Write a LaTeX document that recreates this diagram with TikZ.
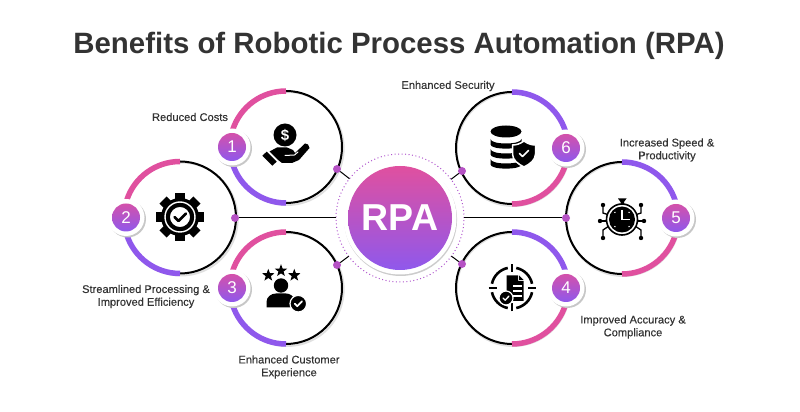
\documentclass[tikz,border=0pt]{standalone}
\usepackage{fontspec}
\setmainfont{Liberation Sans}
\usetikzlibrary{shadows,shapes.geometric}
\definecolor{rpapink}{HTML}{E0509F}
\definecolor{rpapurple}{HTML}{8F58EC}
\definecolor{dotcolor}{HTML}{B552C4}
\definecolor{textgray}{HTML}{333333}
\newfontfamily\labelfont[FakeBold=.25]{Liberation Sans}
\tikzset{
 ringnode/.style={circle,draw=black,line width=2,minimum size=112,inner sep=0,outer sep=0},
 ringshade/.style={draw=black!12,line width=2},
 arcline/.style={line width=5.5},
 badgeback/.style={circle,fill=white,minimum size=37,inner sep=0,outer sep=0,drop shadow={shadow xshift=1.5pt,shadow yshift=-1.5pt,fill=black!22,opacity=1}},
 badgenode/.style={circle,top color=rpapink!85!rpapurple,bottom color=rpapurple,minimum size=28,inner sep=0,outer sep=0,text=white,font=\fontsize{17}{17}\selectfont},
 dotnode/.style={circle,fill=dotcolor,minimum size=8,inner sep=0,outer sep=0},
 linkline/.style={draw=black,line width=1},
 labelnode/.style={align=center,text=textgray,font=\labelfont\fontsize{11.1}{12.8}\selectfont},
 iconstar/.style={star,star points=5,star point ratio=2.4,fill=black,minimum size=13,inner sep=0,outer sep=0},
 whitecheck/.style={draw=white,line width=1.5,line cap=round,line join=round},
}
\begin{document}
\begin{tikzpicture}[x=1pt,y=1pt]
\useasboundingbox (0,0) rectangle (800,412);
\node[text=textgray,font=\bfseries\fontsize{29.4}{30}\selectfont] (title) at (399,366) {Benefits of Robotic Process Automation (RPA)};
% centre
\node[circle,draw=rpapurple!60!rpapink,line width=1,dash pattern=on 1pt off 2.5pt,minimum size=128,inner sep=0,outer sep=0] (halo) at (400,194) {};
\node[circle,fill=white,minimum size=113,inner sep=0,drop shadow={shadow xshift=.6pt,shadow yshift=-1.5pt,fill=black!20,opacity=1}] (rpaback) at (400,194) {};
\node[circle,top color=rpapink,bottom color=rpapurple,minimum size=104,inner sep=0,text=white,font=\bfseries\fontsize{37.5}{38}\selectfont] (rpa) at (400,194) {RPA};
% rings
\foreach \n/\cx/\cy/\topc/\botc/\s in {1/286/265/rpapink/rpapurple/1,2/180/194.5/rpapink/rpapurple/1,3/286/124/rpapink/rpapurple/1,
 4/512/124/rpapurple/rpapink/-1,5/622/194/rpapurple/rpapink/-1,6/512/264/rpapurple/rpapink/-1} {
 \draw[ringshade] (\cx+1.2,\cy-1.5) circle (56.5);
 \node[ringnode] (ring\n) at (\cx,\cy) {};
 \draw[arcline,\topc] (\cx,\cy+56) arc (90:{90+72*\s}:56);
 \draw[arcline,\botc] (\cx,\cy-56) arc (270:{270-72*\s}:56);
 \node[badgeback] (back\n) at ({\cx-54*\s},\cy) {};
 \node[badgenode] (badge\n) at ({\cx-54*\s},\cy) {\n};
}
% connectors
\node[dotnode] (dot1) at (337,243) {};
\node[dotnode] (dot2) at (235,194) {};
\node[dotnode] (dot3) at (337,147) {};
\node[dotnode] (dot4) at (462,148) {};
\node[dotnode] (dot5) at (566,194) {};
\node[dotnode] (dot6) at (462,241) {};
\foreach \n in {1,...,6} {
 \draw[linkline] (dot\n) -- (halo);
}
% labels
\node[labelnode] (label1) at (190,295) {Reduced Costs};
\node[labelnode] (label2) at (146,115.5) {Streamlined Processing \&\\Improved Efficiency};
\node[labelnode] (label3) at (289,45) {Enhanced Customer\\Experience};
\node[labelnode] (label4) at (633,85) {Improved Accuracy \&\\Compliance};
\node[labelnode] (label5) at (667,262) {Increased Speed \&\\Productivity};
\node[labelnode] (label6) at (448,326) {Enhanced Security};
% icon 1
\begin{scope}[shift={(255,297)},y=-1pt]
 \fill (30,20) circle (11.5);
 \node[text=white,font=\bfseries\fontsize{15}{15}\selectfont] (dollar) at (30,20) {\$};
 \fill (7.3,40.7) -- (11.7,36.7) -- (21.7,46.7) -- (17.3,50.7) -- cycle;
 \fill (14.5,36.5) -- (22,32.5) -- (32,32.5) -- (38,35) -- (40,38) -- (50,28.5) -- (53,29.5) -- (54.5,33) -- (44,45) -- (37,48) -- (27,48) -- (22.5,44.5) -- cycle;
 \draw[white,line width=1,line cap=round] (30,40.5) -- (39.5,40) -- (43,37);
\end{scope}
% icon 2
\begin{scope}[shift={(150,224)},y=-1pt]
 \fill (30,29) circle (19);
 \foreach \a in {0,45,...,315} {
  \fill[rotate around={\a:(30,29)}] (25,5) rectangle (35,14);
 }
 \draw[white,line width=1.4] (30,29) circle (15);
 \draw[black,line width=1.8,fill=white] (30,29) circle (11);
 \draw[black,line width=2.6,line cap=round,line join=round] (24.5,29) -- (28.5,33) -- (36,25.5);
\end{scope}
% icon 3
\begin{scope}[shift={(255,154)},y=-1pt]
 \node[iconstar] (star1) at (13.3,17.3) {};
 \node[iconstar] (star2) at (26,12.7) {};
 \node[iconstar] (star3) at (39.3,17.3) {};
 \fill (26,27.5) circle (7.2);
 \fill (11.5,49.5) -- (11.5,44) .. controls (11.5,39) and (16,35.5) .. (21,35.5) -- (31,35.5) .. controls (35,35.5) and (38,38) .. (39,41) -- (39,49.5) -- cycle;
 \draw[white,line width=1.2,fill=black] (43.3,45.7) circle (8.3);
 \draw[whitecheck,line width=1.7] (39.8,45.7) -- (42.3,48.2) -- (47,43.3);
\end{scope}
% icon 4
\begin{scope}[shift={(482,154)},y=-1pt]
 \foreach \a in {0,90,180,270} {
  \draw[line width=2.6] (30,30) ++(\a+12:20.5) arc (\a+12:\a+78:20.5);
  \draw[line width=2.6,rotate around={\a:(30,30)}] (30,6.5) -- (30,14.5);
 }
 \fill (24.5,17.5) -- (36,17.5) -- (36,23) -- (41.5,23) -- (41.5,43) -- (24.5,43) -- cycle;
 \fill (37,17.5) -- (41.5,22) -- (37,22) -- cycle;
 \foreach \y in {28,33,38} {
  \draw[white,line width=1.1] (31,\y) -- (39.5,\y);
 }
 \draw[white,line width=1.2,fill=black] (24,40) circle (7);
 \draw[whitecheck,line width=1.3] (21,40) -- (23.2,42.2) -- (27,38);
\end{scope}
% icon 5
\begin{scope}[shift={(592,224)},y=-1pt]
 \foreach \sx in {1,-1} {
  \draw[line width=1.3] (30-19*\sx,17) -- (30-19*\sx,25) -- (30-13*\sx,27);
  \draw[line width=1.3] (30-19*\sx,50) -- (30-19*\sx,42) -- (30-13*\sx,38);
  \draw[line width=1.3] (30-22*\sx,33) -- (30-14*\sx,33);
  \fill (30-19*\sx,17) circle (2.2);
  \fill (30-19*\sx,50) circle (2.2);
  \fill (30-22*\sx,33) circle (2.2);
 }
 \fill (26,10.5) -- (34.5,10.5) -- (32,14) -- (32,17) -- (28.5,17) -- (28.5,14) -- cycle;
 \draw[line width=1.6,fill=white] (30,31.5) circle (15.5);
 \fill (30,31.5) circle (13);
 \draw[white,line width=1.5] (30,22) -- (30,31.5) -- (38,31.5);
 \foreach \a in {0,90,180,270} {
  \fill[white] (30,31.5) ++(\a+45:10) circle (.8);
 }
\end{scope}
% icon 6
\begin{scope}[shift={(482,294)},y=-1pt]
 \fill (24,13.5) ellipse (15.5 and 6);
 \foreach \y in {21,31,41} {
  \fill (8.5,\y) -- (8.5,\y+5.5) .. controls (8.5,\y+11) and (39.5,\y+11) .. (39.5,\y+5.5) -- (39.5,\y) .. controls (39.5,\y+6) and (8.5,\y+6) .. cycle;
 }
 \draw[white,line width=1.5,fill=black] (42,23) .. controls (38,26) and (34,27) .. (30.5,27) -- (30.5,36) .. controls (30.5,42) and (36,46) .. (42,49) .. controls (48,46) and (53.5,42) .. (53.5,36) -- (53.5,27) .. controls (50,27) and (46,26) .. cycle;
 \draw[whitecheck,line width=1.7] (37.5,35.5) -- (40.5,38.5) -- (46.5,32.5);
\end{scope}
\end{tikzpicture}
\end{document}
